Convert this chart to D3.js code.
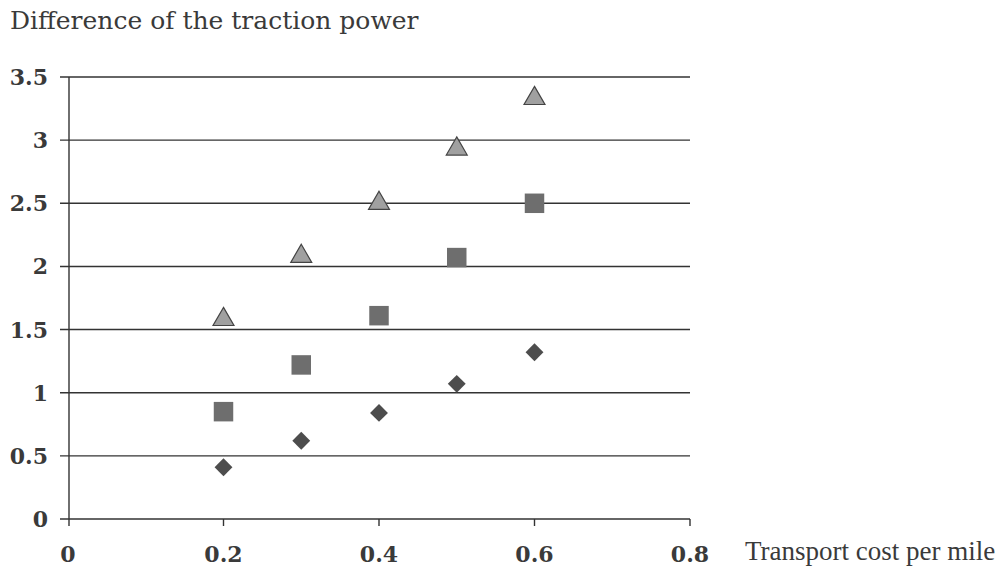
<!DOCTYPE html>
<html>
<head>
<meta charset="utf-8">
<script src="https://cdn.jsdelivr.net/npm/d3@7"></script>
<style>
  body { margin: 0; background: #fff; }
  text { font-family: "DejaVu Serif", serif; fill: #3a3a3a; }
</style>
</head>
<body>
<div id="chart"></div>
<script>
// Data
const xValues = [0.2, 0.3, 0.4, 0.5, 0.6];
const diamonds = [0.41, 0.62, 0.84, 1.07, 1.32];
const squares = [0.85, 1.22, 1.61, 2.07, 2.5];
const triangles = [1.58, 2.08, 2.5, 2.93, 3.33];
const xTicks = [0, 0.2, 0.4, 0.6, 0.8];
const yTicks = [0, 0.5, 1, 1.5, 2, 2.5, 3, 3.5];

const width = 1004, height = 572;
const plot = {left: 68, right: 690, top: 77, bottom: 519};

const svg = d3.select("#chart").append("svg")
  .attr("width", width)
  .attr("height", height);

const x = d3.scaleLinear().domain([0, 0.8]).range([plot.left, plot.right]);
const y = d3.scaleLinear().domain([0, 3.5]).range([plot.bottom, plot.top]);

// horizontal gridlines
svg.selectAll(".grid")
  .data(yTicks)
  .join("line")
  .attr("x1", plot.left - 8)
  .attr("x2", plot.right)
  .attr("y1", d => y(d))
  .attr("y2", d => y(d))
  .attr("stroke", "#333")
  .attr("stroke-width", 1.4);

// y axis line
svg.append("line")
  .attr("x1", plot.left + 1).attr("x2", plot.left + 1)
  .attr("y1", plot.top).attr("y2", plot.bottom + 7)
  .attr("stroke", "#333").attr("stroke-width", 1.4);

// x ticks
svg.selectAll(".xtick")
  .data(xTicks.slice(1))
  .join("line")
  .attr("x1", d => x(d)).attr("x2", d => x(d))
  .attr("y1", plot.bottom).attr("y2", plot.bottom + 7)
  .attr("stroke", "#333").attr("stroke-width", 1.4);

// y tick labels
svg.selectAll(".ylab")
  .data(yTicks)
  .join("text")
  .attr("x", plot.left - 20)
  .attr("y", d => y(d) + 8)
  .attr("text-anchor", "end")
  .style("font-size", "22px")
  .style("font-weight", "bold")
  .text(d => d);

// x tick labels
svg.selectAll(".xlab")
  .data(xTicks)
  .join("text")
  .attr("x", d => x(d))
  .attr("y", 562)
  .attr("text-anchor", "middle")
  .style("font-size", "22px")
  .style("font-weight", "bold")
  .text(d => d);

// titles
svg.append("text")
  .attr("x", 10).attr("y", 29)
  .style("font-size", "25px")
  .text("Difference of the traction power");

svg.append("text")
  .attr("x", 745).attr("y", 560)
  .style("font-family", "'Liberation Serif', serif")
  .style("font-size", "27px")
  .text("Transport cost per mile");

// markers
svg.selectAll(".tri")
  .data(xValues)
  .join("path")
  .attr("transform", (d, i) => `translate(${x(d)},${y(triangles[i])})`)
  .attr("d", d3.symbol(d3.symbolTriangle, 190))
  .attr("fill", "#a0a0a0")
  .attr("stroke", "#444")
  .attr("stroke-width", 1.2);

svg.selectAll(".sq")
  .data(xValues)
  .join("path")
  .attr("transform", (d, i) => `translate(${x(d)},${y(squares[i])})`)
  .attr("d", d3.symbol(d3.symbolSquare, 380))
  .attr("fill", "#6e6e6e");

svg.selectAll(".dia")
  .data(xValues)
  .join("path")
  .attr("transform", (d, i) => `translate(${x(d)},${y(diamonds[i])}) rotate(45)`)
  .attr("d", d3.symbol(d3.symbolSquare, 160))
  .attr("fill", "#4d4d4d");
</script>
</body>
</html>
